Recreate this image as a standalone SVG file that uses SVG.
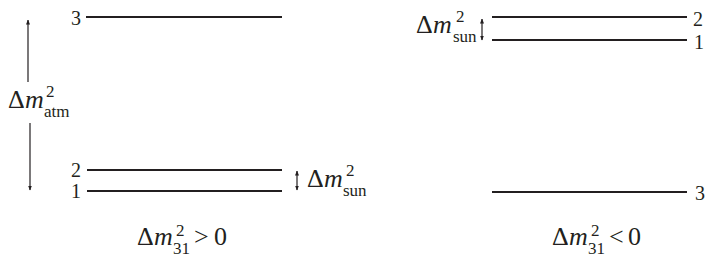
<svg xmlns="http://www.w3.org/2000/svg" width="714" height="263" viewBox="0 0 714 263" font-family="Liberation Serif, Times New Roman, serif">
<style>
.lvl{stroke:#231f20;stroke-width:2;fill:none}
.arr{stroke:#231f20;stroke-width:1.2;fill:none}
.tx{font-family:"Liberation Serif","Times New Roman",serif;fill:#231f20}
.n{font-size:20px}
.t{font-size:26px}
.i{font-style:italic}
.s{font-size:17px}
</style>
<defs>
<marker id="ah" viewBox="0 0 10 10" refX="9" refY="5" markerWidth="5" markerHeight="6" orient="auto-start-reverse" markerUnits="userSpaceOnUse">
<path d="M0,1 L10,5 L0,9 z" fill="#231f20"/>
</marker>
</defs>
<rect width="714" height="263" fill="#fff"/>
<g id="left-level-3"><line class="lvl" x1="86" y1="17" x2="282" y2="17"/><text class="tx n" x="71" y="25">3</text></g>
<g id="left-level-2"><line class="lvl" x1="87" y1="170" x2="282" y2="170"/><text class="tx n" x="71" y="177">2</text></g>
<g id="left-level-1"><line class="lvl" x1="87" y1="191" x2="282" y2="191"/><text class="tx n" x="71" y="198">1</text></g>
<g id="left-atm-label"><text class="tx t" y="108"><tspan x="8">Δ</tspan><tspan class="i" x="25">m</tspan><tspan class="s" x="46" y="97">2</tspan><tspan class="s" x="44" y="117">atm</tspan></text></g>
<g id="left-sun-label"><text class="tx t" y="187"><tspan x="307">Δ</tspan><tspan class="i" x="324">m</tspan><tspan class="s" x="346" y="176">2</tspan><tspan class="s" x="343" y="196">sun</tspan></text></g>
<g id="left-caption"><text class="tx t" y="245"><tspan x="137">Δ</tspan><tspan class="i" x="154">m</tspan><tspan class="s" x="176" y="236">2</tspan><tspan class="s" x="173" y="254">31</tspan><tspan x="194" y="245">&gt;</tspan><tspan x="214">0</tspan></text></g>
<g id="right-level-2"><line class="lvl" x1="492" y1="17" x2="687" y2="17"/><text class="tx n" x="693" y="26">2</text></g>
<g id="right-level-1"><line class="lvl" x1="492" y1="40" x2="687" y2="40"/><text class="tx n" x="694" y="49">1</text></g>
<g id="right-level-3"><line class="lvl" x1="492" y1="192" x2="687" y2="192"/><text class="tx n" x="695" y="200">3</text></g>
<g id="right-sun-label"><text class="tx t" y="33"><tspan x="416">Δ</tspan><tspan class="i" x="433">m</tspan><tspan class="s" x="456" y="22">2</tspan><tspan class="s" x="453" y="42">sun</tspan></text></g>
<g id="right-caption"><text class="tx t" y="245"><tspan x="552">Δ</tspan><tspan class="i" x="569">m</tspan><tspan class="s" x="591" y="236">2</tspan><tspan class="s" x="588" y="254">31</tspan><tspan x="609" y="245">&lt;</tspan><tspan x="628">0</tspan></text></g>
<g id="connectors">
<line class="arr" x1="28" y1="82" x2="28" y2="20" marker-end="url(#ah)"/>
<line class="arr" x1="30" y1="123" x2="30" y2="190" marker-end="url(#ah)"/>
<line class="arr" x1="297" y1="171" x2="297" y2="190" marker-start="url(#ah)" marker-end="url(#ah)"/>
<line class="arr" x1="482" y1="19" x2="482" y2="40" marker-start="url(#ah)" marker-end="url(#ah)"/>
</g>
</svg>
